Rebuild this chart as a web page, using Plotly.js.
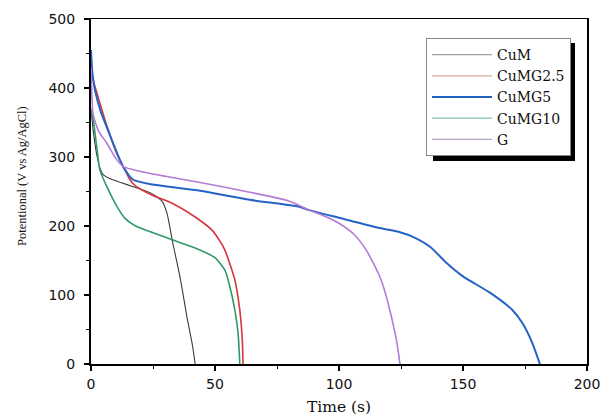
<!DOCTYPE html>
<html>
<head>
<meta charset="utf-8">
<script src="https://cdn.plot.ly/plotly-3.0.1.min.js"></script>
<style>html,body{margin:0;padding:0;background:#fff;}#chart{width:600px;height:417px;}</style>
</head>
<body>
<div id="chart"></div>
<script>
// Series names
const seriesNames = ["CuM", "CuMG2.5", "CuMG5", "CuMG10", "G"];
const xTitle = "Time (s)";
const yTitle = "Potentional (V vs Ag/AgCl)";

// CuM
const tCuM = [0, 1, 2.5, 4, 5, 8, 12, 17, 24, 28.6, 30.6, 33, 35.9, 38.7, 41, 42];
const vCuM = [370, 335, 300, 280, 274, 268, 263, 257, 248, 236, 219, 175, 126, 68, 25, 0];

// CuMG2.5
const tCuMG25 = [0, 0.8, 3, 5.6, 8, 11, 13.7, 15.7, 17.7, 24.5, 32.7, 42, 48.8, 52, 54, 56, 58, 60, 61, 61.3];
const vCuMG25 = [422, 412, 385, 354, 328, 300, 281, 267, 259, 245, 233, 213, 194, 178, 165, 145, 122, 78, 35, 0];

// CuMG5
const tCuMG5 = [0, 0.5, 1.6, 4, 6.4, 10, 13, 17, 25, 44, 64, 84, 88, 100, 116.5, 124.6, 130, 136.7, 143.5, 150, 161, 170, 174, 178, 181];
const vCuMG5 = [455, 425, 397, 365, 343, 310, 286, 267, 260, 251, 238, 228, 223, 212, 197, 191, 184, 170, 146, 127, 103, 78, 59, 30, 0];

// CuMG10
const tCuMG10 = [0, 0.9, 2.3, 3.6, 6.4, 10.5, 13.7, 18, 24.5, 32.7, 42, 50, 54, 56, 58, 59.3, 60];
const vCuMG10 = [368, 354, 315, 281, 257, 228, 211, 200, 191, 180, 168, 154, 136, 112, 78, 45, 0];

// G
const tG = [0, 0.3, 0.8, 3, 6.4, 10, 13, 20, 30, 44, 64, 80, 88, 95, 100, 106, 111, 114, 116.5, 118.5, 120.5, 122, 123.4, 124.6];
const vG = [430, 395, 363, 338, 320, 298, 286, 279, 272, 263, 249, 236, 223, 213, 204, 188, 165, 145, 126, 105, 78, 55, 30, 0];

const xs = [tCuM, tCuMG25, tCuMG5, tCuMG10, tG];
const ys = [vCuM, vCuMG25, vCuMG5, vCuMG10, vG];
const lineColors = ["#3a3a3a", "#d8353c", "#2463c4", "#2f9a66", "#b47bd8"];
const lineWidths = [1.1, 1.6, 2, 1.6, 1.6];
const legendColors = ["#a0a0a0", "#d6a9a2", "#2463c4", "#84c0b2", "#b6a2c4"];
const legendWidths = [1.2, 1.2, 2, 1.2, 1.2];

const traces = [];
for (let i = 0; i < seriesNames.length; i++) {
  traces.push({
    x: xs[i], y: ys[i], type: "scatter", mode: "lines", name: seriesNames[i],
    line: {color: lineColors[i], width: lineWidths[i], shape: "spline", smoothing: 0.6},
    showlegend: false, hoverinfo: "skip"
  });
}
for (let i = 0; i < seriesNames.length; i++) {
  traces.push({
    x: [null], y: [null], type: "scatter", mode: "lines", name: seriesNames[i],
    line: {color: legendColors[i], width: legendWidths[i]}, showlegend: true
  });
}

const serif = "DejaVu Serif, serif";
const layout = {
  width: 600, height: 417,
  margin: {l: 91, r: 13, t: 19, b: 53},
  paper_bgcolor: "#fff", plot_bgcolor: "rgba(0,0,0,0)",
  showlegend: true,
  legend: {
    x: (426 - 91) / 496, y: (364 - 38) / 345, xanchor: "left", yanchor: "top",
    bgcolor: "#fff", bordercolor: "#888", borderwidth: 1,
    font: {family: serif, size: 14, color: "#111"},
    tracegroupgap: 0, itemwidth: 60
  },
  shapes: [{
    type: "rect", xref: "paper", yref: "paper",
    x0: (433 - 91) / 496, x1: (575 - 91) / 496,
    y0: (364 - 161) / 345, y1: (364 - 43) / 345,
    fillcolor: "#000", line: {width: 0}, layer: "below"
  }],
  annotations: [{
    text: yTitle, xref: "paper", yref: "paper",
    x: (22 - 91) / 496, y: (364 - 176) / 345, xanchor: "center", yanchor: "middle",
    textangle: -90, showarrow: false,
    font: {family: "Liberation Serif, Times New Roman, serif", size: 12.5, color: "#111"}
  }],
  xaxis: {
    range: [0, 200], dtick: 50, tick0: 0,
    ticks: "outside", ticklen: 5, tickwidth: 1.2, tickcolor: "#000",
    minor: {dtick: 25, ticks: "outside", ticklen: 3, tickwidth: 1, tickcolor: "#000"},
    showline: true, linecolor: "#000", linewidth: 1.5, mirror: true,
    showgrid: false, zeroline: false,
    ticklabelstandoff: 2, ticklabeloverflow: "allow",
    tickfont: {family: "DejaVu Sans, sans-serif", size: 14, color: "#111"},
    title: {text: xTitle, font: {family: serif, size: 15.5, color: "#111"}, standoff: 10}
  },
  yaxis: {
    range: [0, 500], dtick: 100, tick0: 0,
    ticks: "outside", ticklen: 5, tickwidth: 1.2, tickcolor: "#000",
    minor: {dtick: 50, ticks: "outside", ticklen: 3, tickwidth: 1, tickcolor: "#000"},
    showline: true, linecolor: "#000", linewidth: 2, mirror: true,
    showgrid: false, zeroline: false,
    ticklabelstandoff: 6,
    tickfont: {family: "DejaVu Sans, sans-serif", size: 14, color: "#111"}
  }
};

Plotly.newPlot("chart", traces, layout, {staticPlot: true, displayModeBar: false});
</script>
</body>
</html>
